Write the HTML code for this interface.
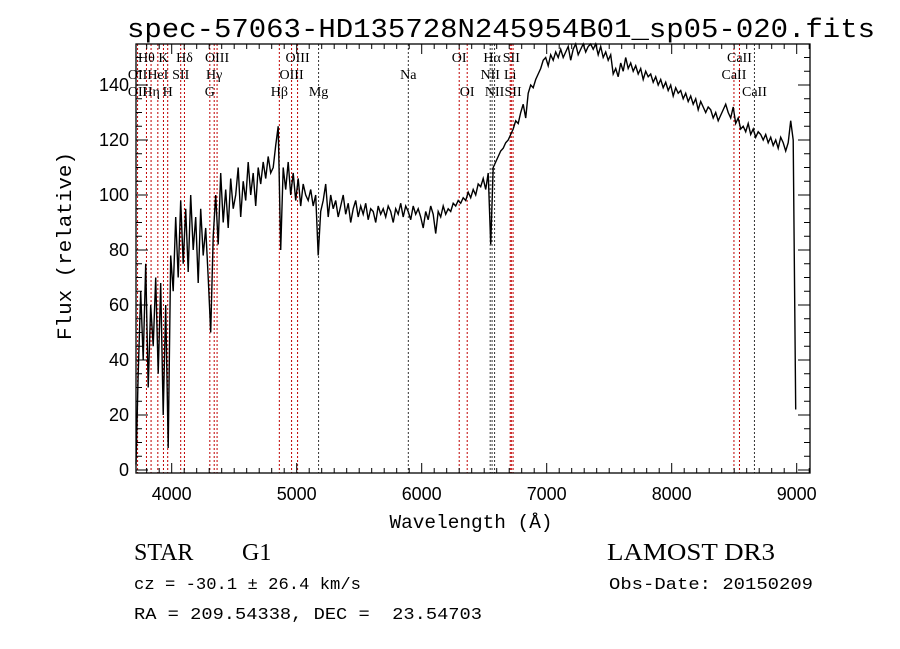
<!DOCTYPE html>
<html><head><meta charset="utf-8"><style>
html,body{margin:0;padding:0;background:#fff;}
svg{display:block;}
text{white-space:pre;}
</style></head><body>
<svg id="chart" width="900" height="649" viewBox="0 0 900 649" xmlns="http://www.w3.org/2000/svg">
<rect x="0" y="0" width="900" height="649" fill="#fff"/>
<text x="501" y="37" font-family="Liberation Mono, monospace" font-size="27" text-anchor="middle" textLength="748" lengthAdjust="spacingAndGlyphs">spec-57063-HD135728N245954B01_sp05-020.fits</text>
<g id="lines"></g>
<g id="linelabels"></g>
<path id="spec" fill="none" stroke="#000" stroke-width="1.4" stroke-linejoin="miter"/>
<rect x="136" y="44" width="674" height="429" fill="none" stroke="#000" stroke-width="1.3"/>
<g id="axes"></g>
<text x="471" y="528" font-family="Liberation Mono, monospace" font-size="19" text-anchor="middle" textLength="163" lengthAdjust="spacingAndGlyphs">Wavelength (Å)</text>
<text transform="translate(71,246) rotate(-90)" font-family="Liberation Mono, monospace" font-size="20" text-anchor="middle" textLength="188" lengthAdjust="spacingAndGlyphs">Flux (relative)</text>
<text x="134" y="560" font-family="Liberation Serif, serif" font-size="24">STAR</text>
<text x="242" y="560" font-family="Liberation Serif, serif" font-size="24">G1</text>
<text x="607" y="560" font-family="Liberation Serif, serif" font-size="24" textLength="168" lengthAdjust="spacingAndGlyphs">LAMOST DR3</text>
<text x="134" y="589" font-family="Liberation Mono, monospace" font-size="17" textLength="227" lengthAdjust="spacingAndGlyphs">cz = -30.1 ± 26.4 km/s</text>
<text x="609" y="589" font-family="Liberation Mono, monospace" font-size="17" textLength="204" lengthAdjust="spacingAndGlyphs">Obs-Date: 20150209</text>
<text x="134" y="619" font-family="Liberation Mono, monospace" font-size="17" textLength="348" lengthAdjust="spacingAndGlyphs">RA = 209.54338, DEC =  23.54703</text>
</svg>
<script>
const waveStart = 3712;
const waveStep = 20;
const flux = [
2,35,65,40,75,30,60,45,70,35,
68,20,60,8,78,65,92,70,98,75,
95,72,100,80,92,68,95,78,88,70,
50,85,100,82,108,90,102,88,106,95,
100,110,92,105,98,112,100,108,96,110,
104,112,106,114,108,110,118,125,80,110,
102,112,100,108,98,106,96,104,100,98,
102,96,100,78,94,98,104,92,100,95,
98,92,96,100,93,97,90,95,98,92,
96,93,97,91,95,94,90,96,93,95,
92,96,94,90,95,93,97,92,96,94,
91,96,93,95,92,88,94,91,96,93,
86,94,92,96,93,95,94,97,96,98,
97,99,98,101,99,102,100,104,103,106,
102,108,82,110,112,114,116,117,119,120,
122,124,127,126,130,133,128,137,140,139,
142,144,146,149,150,147,151,149,152,150,
153,150,152,154,149,153,155,151,153,155,
152,154,156,153,155,151,154,150,152,149,
151,144,146,143,148,145,150,146,148,145,
147,144,146,142,145,143,144,141,143,140,
142,139,141,138,140,136,139,137,138,135,
137,134,136,133,135,131,134,132,130,132,
131,128,130,127,129,131,133,130,128,132,
126,128,124,125,123,126,122,124,121,123,
122,120,122,119,121,118,120,117,121,119,
116,119,127,120,22
];
const lineWaves = [3727,3798,3835,3889,3934,3968,4072,4102,4305,4340,4363,4861,4959,5007,5175,5893,6300,6364,6548,6563,6583,6708,6717,6731,8498,8542,8662];
const lineDark = [0,0,0,0,0,0,0,0,0,0,0,0,0,0,1,1,0,0,1,1,1,0,0,0,0,0,1];
const labelText = ["Hθ","K","Hδ","OIII","OIII","OI","Hα","SII","CaII","OII","HeI","SII","Hγ","OIII","Na","NII","Li","CaII","OII","Hη","H","G","Hβ","Mg","OI","NII","SII","CaII"];
const labelWave = [3798,3934,4102,4363,5007,6300,6563,6717,8542,3727,3889,4072,4340,4959,5893,6548,6708,8498,3727,3835,3968,4305,4861,5175,6364,6583,6731,8662];
const labelRow = [0,0,0,0,0,0,0,0,0,1,1,1,1,1,1,1,1,1,2,2,2,2,2,2,2,2,2,2];
const xTicks = [4000,5000,6000,7000,8000,9000];
const yTicks = [0,20,40,60,80,100,120,140];

const NS="http://www.w3.org/2000/svg";
const L=136,R=810,T=44,B=473;
function xs(w){return 171.7+(w-4000)*0.125;}
function ys(v){return 470-2.75*v;}
function mk(tag,attrs,parent){const e=document.createElementNS(NS,tag);for(const k in attrs)e.setAttribute(k,attrs[k]);parent.appendChild(e);return e;}

let d="";
flux.forEach((f,i)=>{const x=Math.max(L,xs(waveStart+i*waveStep));let y=Math.min(B,Math.max(T,ys(f)));d+=(i?"L":"M")+x.toFixed(2)+","+y.toFixed(2);});
document.getElementById("spec").setAttribute("d",d);

const lg=document.getElementById("lines");
lineWaves.forEach((w,i)=>{
  const ln=mk("line",{x1:xs(w),x2:xs(w),y1:T,y2:B,stroke:lineDark[i]?"#333":"#c00000","stroke-width":1,"stroke-dasharray":"2,2"},lg);
  
  
});
const lbg=document.getElementById("linelabels");
const rowY=[62,79,96];
labelText.forEach((t,i)=>{
  const tx=mk("text",{x:xs(labelWave[i]),y:rowY[labelRow[i]],"font-family":"Liberation Serif, serif","font-size":14,"text-anchor":"middle"},lbg);
  tx.textContent=t;
  
  
});

const ag=document.getElementById("axes");
for(let w=3800;w<=9100;w+=100){
  const x=xs(w); if(x<L||x>R)continue;
  const major=(w%1000===0); const len=major?10:5;
  const t1=mk("line",{x1:x,x2:x,y1:B,y2:B-len,stroke:"#000","stroke-width":1},ag);
  
  
  const t2=mk("line",{x1:x,x2:x,y1:T,y2:T+len,stroke:"#000","stroke-width":1},ag);
  
  
}
xTicks.forEach(w=>{
  const tx=mk("text",{x:xs(w),y:500,"font-family":"Liberation Sans, sans-serif","font-size":18,"text-anchor":"middle",textLength:40,lengthAdjust:"spacingAndGlyphs"},ag);
  tx.textContent=String(w);
  
  
});
for(let v=0;v<=160;v+=5){
  const y=ys(v); if(y<T||y>B)continue;
  const major=(v%20===0); const len=major?12:6;
  const t1=mk("line",{x1:L,x2:L+len,y1:y,y2:y,stroke:"#000","stroke-width":1},ag);
  
  
  const t2=mk("line",{x1:R,x2:R-len,y1:y,y2:y,stroke:"#000","stroke-width":1},ag);
  
  
}
yTicks.forEach(v=>{
  const tx=mk("text",{x:129,y:ys(v)+6,"font-family":"Liberation Sans, sans-serif","font-size":18,"text-anchor":"end"},ag);
  tx.textContent=String(v);
  
  
});
</script>
</body></html>
